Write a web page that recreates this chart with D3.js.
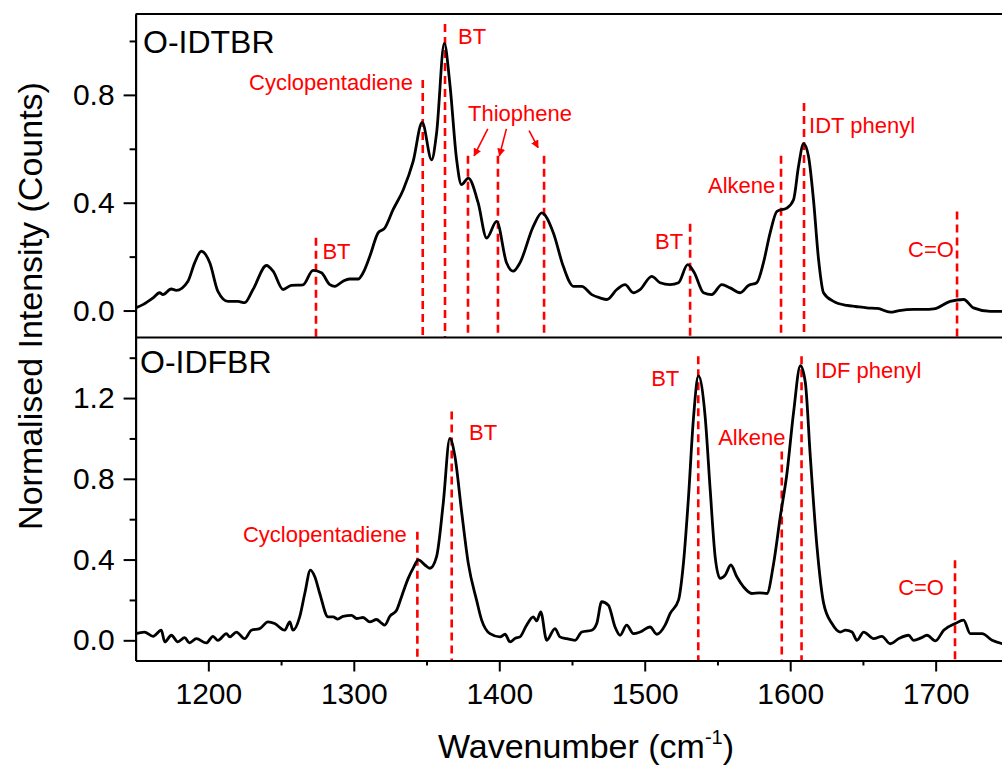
<!DOCTYPE html>
<html>
<head>
<meta charset="utf-8">
<script src="https://cdn.jsdelivr.net/npm/d3@7"></script>
<style>
  body { margin: 0; background: #fff; }
  svg { display: block; font-family: "Liberation Sans", Arial, sans-serif; }
</style>
</head>
<body>
<svg width="1002" height="776"></svg>
<script>
// ---- data ----
var xTicks = [1200, 1300, 1400, 1500, 1600, 1700];
var topYTicks = [0, 0.4, 0.8];
var botYTicks = [0, 0.4, 0.8, 1.2];

// O-IDTBR spectrum
var idtbrWave = [1150, 1155, 1162, 1166.5, 1168.8, 1174.5, 1178, 1186, 1190.6, 1195.2, 1201, 1206.6, 1213.5, 1220.4, 1225, 1230.7, 1240, 1244.5, 1251.4, 1257, 1265, 1272, 1277.8, 1283.5, 1287, 1292.6, 1297, 1303, 1306.4, 1311, 1316.7, 1321.3, 1327, 1334, 1340.8, 1347, 1353.5, 1356.9, 1362.2, 1366, 1370.7, 1374, 1378.7, 1385.5, 1391.3, 1398.2, 1405, 1409.6, 1414.2, 1423.4, 1429.2, 1437.2, 1444, 1451, 1456.7, 1463.6, 1469.3, 1474, 1480.8, 1486.5, 1492.2, 1496.8, 1504.8, 1510.6, 1517.4, 1523.2, 1529.5, 1534, 1540.4, 1546, 1553, 1558.7, 1565.6, 1571.3, 1577, 1581.6, 1586.2, 1590.9, 1597.7, 1602.3, 1605.7, 1609.2, 1612.6, 1616, 1619.5, 1622.9, 1629.8, 1639, 1645, 1652.7, 1660, 1668.8, 1675, 1684.8, 1692, 1698.6, 1710, 1719.3, 1726, 1737.6, 1746];
var idtbrInt = [0.010, 0.022, 0.047, 0.066, 0.059, 0.080, 0.075, 0.109, 0.177, 0.220, 0.177, 0.071, 0.034, 0.034, 0.029, 0.078, 0.167, 0.146, 0.078, 0.093, 0.095, 0.149, 0.140, 0.096, 0.090, 0.109, 0.117, 0.117, 0.140, 0.201, 0.288, 0.306, 0.374, 0.448, 0.553, 0.698, 0.559, 0.658, 0.991, 0.843, 0.559, 0.467, 0.491, 0.399, 0.269, 0.331, 0.177, 0.146, 0.177, 0.312, 0.362, 0.288, 0.164, 0.090, 0.090, 0.059, 0.047, 0.041, 0.078, 0.096, 0.066, 0.078, 0.127, 0.103, 0.096, 0.103, 0.170, 0.141, 0.066, 0.059, 0.096, 0.084, 0.066, 0.093, 0.103, 0.177, 0.288, 0.368, 0.380, 0.411, 0.534, 0.619, 0.571, 0.411, 0.189, 0.066, 0.034, 0.019, 0.015, 0.010, 0.008, -0.006, 0.000, 0.004, 0.004, 0.006, 0.034, 0.041, 0.010, -0.003, -0.003];

// O-IDFBR spectrum
var idfbrWave = [1150, 1156, 1162, 1167.7, 1170, 1174.6, 1179, 1183.7, 1187, 1191.8, 1198.6, 1203.2, 1206.6, 1212.4, 1214.7, 1219.3, 1225, 1229.6, 1235.3, 1241, 1245.6, 1252.5, 1256, 1258.2, 1262.8, 1266.3, 1270.2, 1273.2, 1276.6, 1282.3, 1285.8, 1289, 1292.6, 1298.4, 1302, 1306.4, 1311, 1315.6, 1319, 1321.3, 1324.8, 1329.4, 1333, 1337.4, 1341, 1344.3, 1348.9, 1352.3, 1356.9, 1361.5, 1366, 1369.5, 1374.1, 1378.7, 1384.4, 1387.9, 1393.6, 1400.5, 1404, 1407.4, 1411, 1414.2, 1418.8, 1423.4, 1425.7, 1428.5, 1432.6, 1438.3, 1441.7, 1446.4, 1452.1, 1456.7, 1463.6, 1467, 1470.4, 1475, 1479.6, 1483, 1487.6, 1492.2, 1496.8, 1503.7, 1508.3, 1514, 1517.5, 1523.2, 1526.6, 1530, 1533.5, 1536.9, 1541.5, 1545, 1548.4, 1551.8, 1555.3, 1559.2, 1563.3, 1567.9, 1573.6, 1579, 1584, 1588.6, 1593.2, 1597.8, 1602.3, 1607, 1610.4, 1613.8, 1618.4, 1623, 1628.7, 1634.4, 1638, 1642.5, 1645.9, 1650.5, 1657.4, 1663, 1668.8, 1675, 1681.4, 1684.8, 1690, 1694, 1699.8, 1705.5, 1713.5, 1719.2, 1723.8, 1731.9, 1738.8, 1746];
var idfbrInt = [0.033, 0.041, 0.020, 0.050, -0.008, 0.025, -0.008, 0.013, -0.013, 0.008, -0.013, 0.020, 0.000, 0.033, 0.017, 0.041, 0.008, 0.050, 0.058, 0.091, 0.083, 0.050, 0.091, 0.050, 0.116, 0.232, 0.348, 0.315, 0.232, 0.116, 0.116, 0.105, 0.119, 0.124, 0.108, 0.113, 0.091, 0.103, 0.085, 0.075, 0.119, 0.149, 0.220, 0.307, 0.360, 0.398, 0.373, 0.357, 0.415, 0.680, 1.000, 0.912, 0.638, 0.381, 0.199, 0.100, 0.033, 0.017, 0.030, -0.008, 0.010, 0.017, 0.075, 0.116, 0.096, 0.141, 0.000, 0.058, 0.017, 0.008, 0.000, 0.041, 0.050, 0.083, 0.191, 0.174, 0.066, 0.025, 0.075, 0.033, 0.041, 0.066, 0.030, 0.075, 0.133, 0.199, 0.381, 0.700, 1.100, 1.310, 1.111, 0.746, 0.415, 0.307, 0.323, 0.373, 0.315, 0.265, 0.232, 0.235, 0.232, 0.381, 0.613, 0.829, 1.128, 1.360, 1.277, 0.912, 0.464, 0.183, 0.083, 0.041, 0.050, 0.041, 0.000, 0.041, 0.008, 0.020, -0.017, 0.010, 0.025, 0.000, 0.012, 0.025, -0.003, 0.050, 0.083, 0.100, 0.033, 0.033, 0.000, -0.017];

// assignments: dashed line position, dashed line top, label anchor point
var topMarks = [
  { w: 1274.0, top: 0.27,  label: "BT",              lw: 1278.4, lv: 0.193, anchor: "start" },
  { w: 1347.4, top: 0.855, label: "Cyclopentadiene", lw: 1340.7, lv: 0.819, anchor: "end" },
  { w: 1362.7, top: 1.063, label: "BT",              lw: 1371.6, lv: 0.989, anchor: "start" },
  { w: 1378.5, top: 0.574, label: "Thiophene",       lw: 1378.5, lv: 0.704, anchor: "start" },
  { w: 1399.1, top: 0.574 },
  { w: 1430.8, top: 0.574 },
  { w: 1531.2, top: 0.322, label: "BT",              lw: 1507.1, lv: 0.23,  anchor: "start" },
  { w: 1593.7, top: 0.574, label: "Alkene",          lw: 1543.5, lv: 0.437, anchor: "start" },
  { w: 1609.5, top: 0.77,  label: "IDT phenyl",      lw: 1613.0, lv: 0.659, anchor: "start" },
  { w: 1714.7, top: 0.367, label: "C=O",             lw: 1681.0, lv: 0.2,   anchor: "start" }
];
var botMarks = [
  { w: 1343.7, top: 0.538, label: "Cyclopentadiene", lw: 1223.8, lv: 0.487, anchor: "start" },
  { w: 1367.3, top: 1.133, label: "BT",              lw: 1379.2, lv: 0.993, anchor: "start" },
  { w: 1536.8, top: 1.407, label: "BT",              lw: 1504.4, lv: 1.261, anchor: "start" },
  { w: 1594.2, top: 0.935, label: "Alkene",          lw: 1550.5, lv: 0.968, anchor: "start" },
  { w: 1607.8, top: 1.407, label: "IDF phenyl",      lw: 1617.1, lv: 1.301, anchor: "start" },
  { w: 1713.3, top: 0.397, label: "C=O",             lw: 1674.2, lv: 0.223, anchor: "start" }
];
// Thiophene arrows: [from w, from v, to w, to v]
var thiopheneArrows = [
  [1392.1, 0.674, 1382.7, 0.574],
  [1404.9, 0.674, 1400.1, 0.574],
  [1420.5, 0.667, 1426.7, 0.604]
];

// ---- layout ----
var svg = d3.select("svg");
var plotLeft = 135.6, plotTop = 14, plotMid = 337.5, plotBottom = 660.5;
var red = "#ff0000";

var x = d3.scaleLinear().domain([1150, 1750]).range([plotLeft, 1008.4]);
var yTop = d3.scaleLinear().domain([-0.1, 1.1]).range([plotMid, plotTop]);
var yBot = d3.scaleLinear().domain([-0.1, 1.5]).range([plotBottom, plotMid]);

var defs = svg.append("defs");
defs.append("marker")
    .attr("id", "arrow")
    .attr("viewBox", "0 0 10 10")
    .attr("refX", 9).attr("refY", 5)
    .attr("markerWidth", 8).attr("markerHeight", 8)
    .attr("markerUnits", "userSpaceOnUse")
    .attr("orient", "auto")
  .append("path")
    .attr("d", "M0,0 L10,5 L0,10 Z")
    .attr("fill", red);

defs.append("clipPath").attr("id", "clipTop")
  .append("rect").attr("x", plotLeft).attr("y", plotTop).attr("width", 1002 - plotLeft).attr("height", plotMid - plotTop);
defs.append("clipPath").attr("id", "clipBot")
  .append("rect").attr("x", plotLeft).attr("y", plotMid).attr("width", 1002 - plotLeft).attr("height", plotBottom - plotMid);

function drawPanel(wave, inten, y, marks, clipId, name, nameX, nameY) {
  var g = svg.append("g");

  // dashed assignment lines
  g.selectAll("line.mark")
    .data(marks)
    .enter().append("line")
      .attr("class", "mark")
      .attr("x1", function(d) { return x(d.w); })
      .attr("x2", function(d) { return x(d.w); })
      .attr("y1", function(d) { return y(d.top); })
      .attr("y2", y.range()[0])
      .attr("stroke", red)
      .attr("stroke-width", 2.6)
      .attr("stroke-dasharray", "8,5");

  g.selectAll("text.mark")
    .data(marks.filter(function(d) { return d.label; }))
    .enter().append("text")
      .attr("class", "mark")
      .attr("x", function(d) { return x(d.lw); })
      .attr("y", function(d) { return y(d.lv); })
      .attr("text-anchor", function(d) { return d.anchor; })
      .attr("fill", red)
      .style("font-size", "22px")
      .text(function(d) { return d.label; });

  // spectrum
  var line = d3.line()
      .x(function(d) { return x(d[0]); })
      .y(function(d) { return y(d[1]); })
      .curve(d3.curveMonotoneX);

  g.append("path")
      .datum(d3.zip(wave, inten))
      .attr("clip-path", "url(#" + clipId + ")")
      .attr("fill", "none")
      .attr("stroke", "#000")
      .attr("stroke-width", 2.8)
      .attr("stroke-linejoin", "round")
      .attr("d", line);

  g.append("text")
      .attr("x", nameX)
      .attr("y", nameY)
      .style("font-size", "32px")
      .text(name);

  return g;
}

drawPanel(idtbrWave, idtbrInt, yTop, topMarks, "clipTop", "O-IDTBR", 143, 53);
drawPanel(idfbrWave, idfbrInt, yBot, botMarks, "clipBot", "O-IDFBR", 140, 373);

svg.selectAll("line.arrow")
  .data(thiopheneArrows)
  .enter().append("line")
    .attr("class", "arrow")
    .attr("x1", function(d) { return x(d[0]); })
    .attr("y1", function(d) { return yTop(d[1]); })
    .attr("x2", function(d) { return x(d[2]); })
    .attr("y2", function(d) { return yTop(d[3]); })
    .attr("stroke", red)
    .attr("stroke-width", 1.6)
    .attr("marker-end", "url(#arrow)");

// ---- axes ----
function styleAxis(sel) {
  sel.selectAll("path").attr("stroke", "#000").attr("stroke-width", 2);
  sel.selectAll("line").attr("stroke", "#000").attr("stroke-width", 2);
  sel.selectAll("text").style("font-size", "30px").style("font-family", "'Liberation Sans', Arial, sans-serif").attr("fill", "#000");
}

function yAxes(y, majors, minors) {
  svg.append("g")
      .attr("transform", "translate(" + plotLeft + ",0)")
      .call(d3.axisLeft(y).tickValues(minors).tickSize(6).tickFormat("").tickSizeOuter(0))
      .call(styleAxis);
  svg.append("g")
      .attr("transform", "translate(" + plotLeft + ",0)")
      .call(d3.axisLeft(y).tickValues(majors).tickSize(12).tickPadding(9).tickFormat(d3.format(".1f")).tickSizeOuter(0))
      .call(styleAxis);
}
yAxes(yTop, topYTicks, [0.2, 0.6, 1.0]);
yAxes(yBot, botYTicks, [0.2, 0.6, 1.0, 1.4]);

svg.append("g")
    .attr("transform", "translate(0," + plotBottom + ")")
    .call(d3.axisBottom(x).tickValues([1250, 1350, 1450, 1550, 1650]).tickSize(5).tickFormat("").tickSizeOuter(0))
    .call(styleAxis);
svg.append("g")
    .attr("transform", "translate(0," + plotBottom + ")")
    .call(d3.axisBottom(x).tickValues(xTicks).tickSize(11).tickPadding(11).tickFormat(d3.format("d")).tickSizeOuter(0))
    .call(styleAxis);

// frame lines
[plotTop, plotMid].forEach(function(yy) {
  svg.append("line")
      .attr("x1", plotLeft).attr("x2", 1002)
      .attr("y1", yy).attr("y2", yy)
      .attr("stroke", "#000").attr("stroke-width", 2);
});

// ---- titles ----
var xt = svg.append("text")
    .attr("x", 586).attr("y", 758)
    .attr("text-anchor", "middle")
    .style("font-size", "34px");
xt.append("tspan").text("Wavenumber (cm");
xt.append("tspan").attr("dy", -14).style("font-size", "20px").text("-1");
xt.append("tspan").attr("dy", 14).text(")");

svg.append("text")
    .attr("transform", "translate(42,306) rotate(-90)")
    .attr("text-anchor", "middle")
    .style("font-size", "34px")
    .text("Normalised Intensity (Counts)");
</script>
</body>
</html>
